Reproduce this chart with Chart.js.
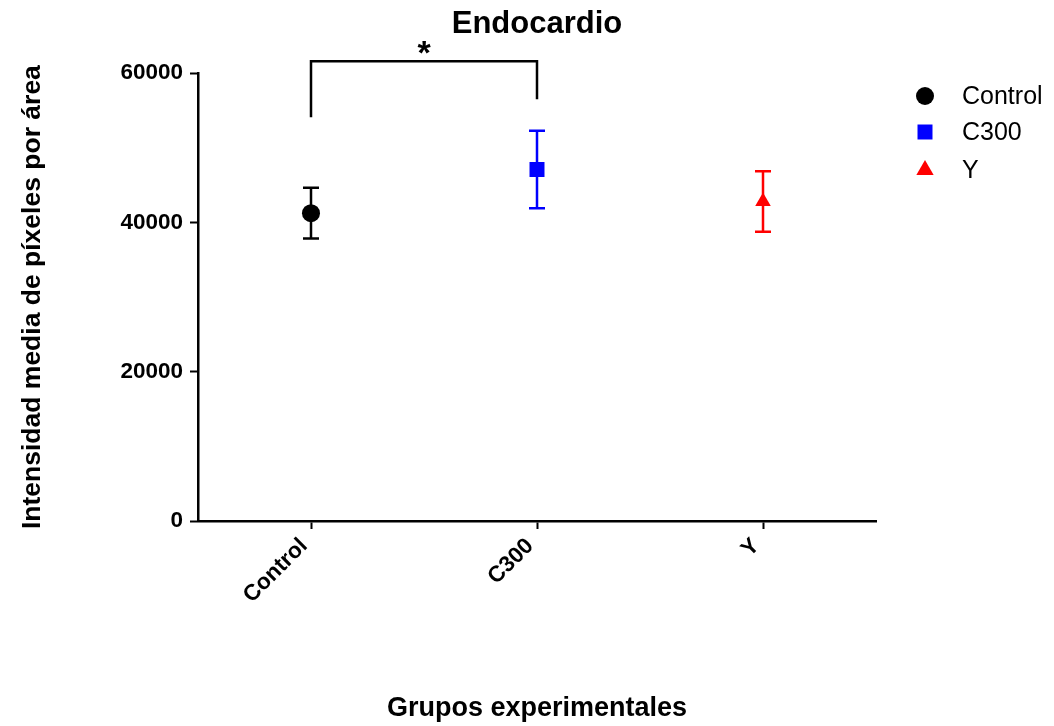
<!DOCTYPE html>
<html>
<head>
<meta charset="utf-8">
<script src="https://cdn.jsdelivr.net/npm/chart.js@4"></script>
<style>
  html, body { margin: 0; padding: 0; background: #fff; }
  #wrap { width: 1054px; height: 726px; }
</style>
</head>
<body>
<div id="wrap"><canvas id="myChart" width="1054" height="726"></canvas></div>
<script>
// data
const categories = ['Control', 'C300', 'Y'];
const means = [41250, 47100, 42800];
const errors = [3400, 5200, 4060];
const colors = ['#000000', '#0000ff', '#ff0000'];
const pointStyles = ['circle', 'rect', 'triangle'];
const pointSizes = [9, 10.6, 9];
const yTicks = [0, 20000, 40000, 60000];

// significance bracket between Control and C300
const bracketPair = [0, 1];
const bracketTop = 61600;
const bracketEnds = [54100, 56500];
const bracketLabel = '*';

Chart.defaults.font.family = '"Liberation Sans", Arial, sans-serif';
Chart.defaults.color = '#000';

const ctx = document.getElementById('myChart');

const datasets = categories.map((name, k) => ({
    label: name,
    data: categories.map((c, i) => (i === k ? means[k] : null)),
    showLine: false,
    pointStyle: pointStyles[k],
    pointRadius: pointSizes[k],
    pointBackgroundColor: colors[k],
    pointBorderColor: colors[k],
    pointBorderWidth: 0
}));

const errorBarPlugin = {
    id: 'errorBars',
    beforeDatasetsDraw(chart) {
        const c = chart.ctx;
        const x = chart.scales.x, y = chart.scales.y;
        c.save();
        c.lineWidth = 2.5;
        means.forEach((m, i) => {
            const px = x.getPixelForValue(i);
            const top = y.getPixelForValue(m + errors[i]);
            const bot = y.getPixelForValue(m - errors[i]);
            c.strokeStyle = colors[i];
            c.beginPath();
            c.moveTo(px, top); c.lineTo(px, bot);
            c.moveTo(px - 8, top); c.lineTo(px + 8, top);
            c.moveTo(px - 8, bot); c.lineTo(px + 8, bot);
            c.stroke();
        });
        c.restore();
    },
    afterDraw(chart) {
        const c = chart.ctx;
        const x = chart.scales.x, y = chart.scales.y;
        c.save();
        // bracket
        const x1 = x.getPixelForValue(bracketPair[0]);
        const x2 = x.getPixelForValue(bracketPair[1]);
        const yt = y.getPixelForValue(bracketTop);
        c.strokeStyle = '#000';
        c.lineWidth = 2.5;
        c.beginPath();
        c.moveTo(x1, y.getPixelForValue(bracketEnds[0]));
        c.lineTo(x1, yt);
        c.lineTo(x2, yt);
        c.lineTo(x2, y.getPixelForValue(bracketEnds[1]));
        c.stroke();
        c.fillStyle = '#000';
        c.font = 'bold 34px "Liberation Sans", Arial, sans-serif';
        c.textAlign = 'center';
        c.textBaseline = 'middle';
        c.fillText(bracketLabel, (x1 + x2) / 2, yt - 7);

        // legend
        const lx = 925, tx = 962, rows = [96, 132, 170];
        c.font = '25px "Liberation Sans", Arial, sans-serif';
        c.textAlign = 'left';
        categories.forEach((name, i) => {
            const ly = rows[i];
            c.fillStyle = colors[i];
            c.strokeStyle = colors[i];
            Chart.helpers.drawPoint(c, {
                pointStyle: pointStyles[i],
                radius: i === 1 ? 10.6 : (i === 2 ? 10 : 9),
                rotation: 0,
                borderWidth: 0
            }, lx, ly);
            c.fillStyle = '#000';
            c.fillText(name, tx, ly + 1);
        });
        c.restore();
    }
};

new Chart(ctx, {
    type: 'line',
    data: {
        labels: categories,
        datasets: datasets
    },
    plugins: [errorBarPlugin],
    options: {
        responsive: false,
        animation: false,
        layout: { padding: { left: 0, right: 178, top: 0, bottom: 0 } },
        plugins: {
            legend: { display: false },
            tooltip: { enabled: false },
            title: {
                display: true,
                text: 'Endocardio',
                fullSize: false,
                font: { size: 31, weight: 'bold' },
                color: '#000',
                padding: { top: 6, bottom: 30 }
            }
        },
        scales: {
            x: {
                type: 'category',
                offset: true,
                grid: {
                    offset: false,
                    drawOnChartArea: false,
                    tickLength: 8,
                    tickWidth: 2,
                    tickColor: '#000'
                },
                border: { color: '#000', width: 2.5 },
                ticks: {
                    minRotation: 45,
                    maxRotation: 45,
                    padding: 4,
                    labelOffset: -7,
                    color: '#000',
                    font: { size: 22.5, weight: 'bold' }
                },
                title: {
                    display: true,
                    text: 'Grupos experimentales',
                    color: '#000',
                    font: { size: 27, weight: 'bold' },
                    padding: { top: 0, bottom: 1 }
                },
                afterFit(scale) { scale.height = 205; }
            },
            y: {
                min: 0,
                max: 60000,
                afterBuildTicks(scale) { scale.ticks = yTicks.map(v => ({ value: v })); },
                grid: {
                    drawOnChartArea: false,
                    tickLength: 8,
                    tickWidth: 2,
                    tickColor: '#000'
                },
                border: { color: '#000', width: 2.5 },
                ticks: {
                    padding: 7,
                    color: '#000',
                    font: { size: 22.5, weight: 'bold' },
                    callback: v => String(v)
                },
                title: {
                    display: true,
                    text: 'Intensidad media de píxeles por área',
                    color: '#000',
                    font: { size: 26.5, weight: 'bold' },
                    padding: { top: 17, bottom: 0 }
                },
                afterFit(scale) { scale.width = 198; }
            }
        }
    }
});
</script>
</body>
</html>
